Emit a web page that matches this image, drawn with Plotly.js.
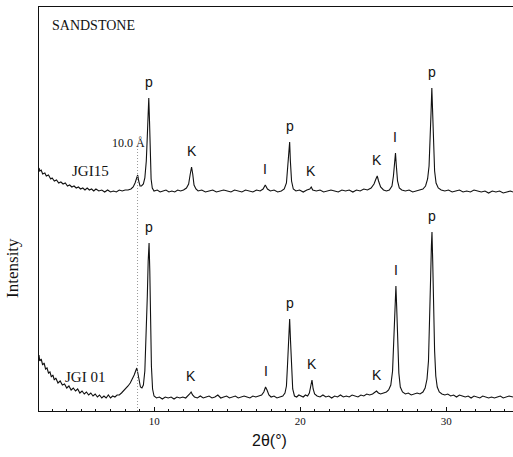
<!DOCTYPE html>
<html>
<head>
<meta charset="utf-8">
<script src="https://cdn.plot.ly/plotly-3.0.1.min.js"></script>
<style>html,body{margin:0;padding:0;background:#fff;}#chart{width:513px;height:457px;}</style>
</head>
<body>
<div id="chart"></div>
<script>
// 2θ (degrees) and intensity (arbitrary units)
const twoThetaJGI15 = [2.10,2.15,2.25,2.35,2.50,2.60,2.75,2.90,3.00,3.15,3.30,3.45,3.60,3.75,3.90,4.05,4.20,4.35,4.50,4.65,4.80,4.95,5.10,5.25,5.40,5.55,5.70,5.85,6.00,6.20,6.40,6.60,6.80,7.00,7.20,7.40,7.60,7.80,8.00,8.20,8.40,8.55,8.68,8.78,8.86,8.93,9.02,9.12,9.25,9.35,9.45,9.52,9.57,9.62,9.67,9.72,9.78,9.86,9.98,10.20,10.40,10.60,10.80,11.00,11.20,11.40,11.60,11.80,12.00,12.20,12.35,12.45,12.55,12.63,12.72,12.85,13.00,13.25,13.50,13.75,14.00,14.25,14.50,14.75,15.00,15.25,15.50,15.75,16.00,16.25,16.50,16.75,17.00,17.25,17.45,17.60,17.75,17.95,18.20,18.45,18.70,18.90,19.05,19.15,19.22,19.27,19.32,19.40,19.52,19.70,19.95,20.20,20.45,20.65,20.75,20.85,21.10,21.35,21.60,21.85,22.10,22.35,22.60,22.85,23.10,23.35,23.60,23.85,24.10,24.35,24.60,24.85,25.05,25.18,25.27,25.36,25.50,25.70,25.90,26.10,26.28,26.38,26.45,26.52,26.58,26.66,26.78,26.95,27.20,27.45,27.70,27.95,28.20,28.40,28.58,28.72,28.82,28.90,28.96,29.01,29.06,29.12,29.20,29.30,29.45,29.65,29.90,30.15,30.40,30.65,30.90,31.15,31.40,31.65,31.90,32.15,32.40,32.65,32.90,33.15,33.40,33.65,33.90,34.15,34.40,34.57];
const intensityJGI15 = [243,240,241,237,238,235,236,232,233,230,231,228,229,227,228,225,226,224,225,223,224,222,223,221,223,221,222,220,222,220,221,219,221,219,220,219,221,220,221,221,222,224,228,233,236,230,225,225,227,233,250,275,300,313,290,258,232,223,220,221,219,220,221,219,220,219,221,220,221,223,227,236,244,237,226,222,220,221,219,220,221,219,220,221,220,219,221,220,219,221,220,219,221,220,222,226,222,220,221,219,220,222,228,245,262,269,250,230,222,220,221,219,221,222,224,221,220,221,219,220,221,220,219,221,220,221,219,221,220,222,221,223,227,232,235,230,224,221,220,221,225,235,250,258,245,230,223,221,220,221,219,220,221,222,225,232,245,270,300,323,300,265,240,228,223,221,220,221,219,220,221,219,220,219,221,220,219,220,218,220,219,220,218,219,220,219];

const twoThetaJGI01 = [2.10,2.15,2.25,2.35,2.45,2.55,2.65,2.75,2.85,2.95,3.05,3.15,3.25,3.40,3.55,3.70,3.85,4.00,4.15,4.30,4.45,4.60,4.75,4.90,5.05,5.20,5.35,5.50,5.65,5.80,5.95,6.10,6.25,6.40,6.55,6.70,6.85,7.00,7.15,7.30,7.45,7.60,7.75,7.90,8.05,8.20,8.35,8.50,8.62,8.72,8.80,8.87,8.95,9.05,9.15,9.25,9.35,9.45,9.52,9.58,9.64,9.69,9.74,9.80,9.88,9.98,10.15,10.35,10.55,10.75,10.95,11.15,11.35,11.55,11.75,11.95,12.15,12.30,12.42,12.52,12.62,12.75,12.95,13.15,13.35,13.55,13.75,13.95,14.15,14.35,14.55,14.75,14.95,15.15,15.35,15.55,15.75,15.95,16.15,16.35,16.55,16.75,16.95,17.15,17.35,17.50,17.62,17.72,17.85,18.00,18.20,18.40,18.60,18.80,18.95,19.05,19.12,19.20,19.27,19.33,19.40,19.48,19.60,19.75,19.90,20.05,20.20,20.35,20.50,20.62,20.72,20.80,20.88,20.98,21.15,21.35,21.55,21.75,21.95,22.15,22.35,22.55,22.75,22.95,23.15,23.35,23.55,23.75,23.95,24.15,24.35,24.55,24.75,24.95,25.10,25.22,25.35,25.50,25.70,25.90,26.05,26.20,26.32,26.42,26.50,26.55,26.60,26.67,26.75,26.85,27.00,27.20,27.40,27.60,27.80,28.00,28.20,28.40,28.55,28.68,28.78,28.86,28.93,28.98,29.02,29.07,29.13,29.20,29.28,29.38,29.52,29.70,29.90,30.10,30.30,30.50,30.70,30.90,31.10,31.30,31.50,31.70,31.90,32.10,32.30,32.50,32.70,32.90,33.10,33.30,33.50,33.70,33.90,34.10,34.30,34.57];
const intensityJGI01 = [56,50,52,46,48,42,43,38,39,34,36,31,33,28,30,26,27,23,25,21,23,20,22,18,20,17,19,16,18,15,17,14,16,13,15,13,16,13,15,14,16,16,18,20,22,25,28,32,36,40,43,38,30,24,23,26,40,75,115,150,168,140,95,45,22,15,13,14,12,14,13,14,12,14,13,14,13,15,17,19,16,14,13,15,13,14,15,13,14,16,13,14,15,13,14,15,13,14,15,14,13,15,14,15,16,19,24,21,16,14,15,13,14,15,18,25,45,75,92,70,40,22,15,14,16,15,14,16,15,18,25,31,22,17,15,14,16,14,15,13,15,14,16,14,15,14,16,15,14,16,15,17,16,17,19,20,18,17,18,19,21,26,40,80,115,125,105,70,38,24,19,17,18,16,17,18,17,19,23,32,50,85,135,165,179,150,105,60,35,24,19,17,16,17,15,16,14,16,15,14,15,13,15,14,13,15,14,13,14,13,14,15,13,14,15,14];

// Peak labels (phase letters) and their 2θ positions
const peakLabelsJGI15 = ['p','K','I','p','K','K','I','p'];
const peakPosJGI15 = [9.62,12.55,17.60,19.27,20.75,25.27,26.52,29.01];
const peakLabelsJGI01 = ['p','K','I','p','K','K','I','p'];
const peakPosJGI01 = [9.64,12.52,17.62,19.27,20.80,25.22,26.55,29.02];

const sampleNames = ['JGI15','JGI 01'];
const reflection10A = 8.85; // 10.0 Å reflection, 2θ

function peakTop(xs, ys, x0){
  let best = -Infinity;
  for (let i=0;i<xs.length;i++){ if (Math.abs(xs[i]-x0)<=0.09 && ys[i]>best) best = ys[i]; }
  return best;
}

const traces = [
  {x: twoThetaJGI15, y: intensityJGI15, name: sampleNames[0], type:'scatter', mode:'lines', line:{color:'#111', width:1.1}, hoverinfo:'skip'},
  {x: twoThetaJGI01, y: intensityJGI01, name: sampleNames[1], type:'scatter', mode:'lines', line:{color:'#111', width:1.1}, hoverinfo:'skip'}
];

const letterFont = {family:'Liberation Sans, Arial, sans-serif', size:14, color:'#111'};
const serif = 'Liberation Serif, Times New Roman, serif';
const annotations = [];
function addLabels(labels, pos, xs, ys){
  labels.forEach((t,i)=>{
    annotations.push({x: pos[i], y: peakTop(xs, ys, pos[i]), xref:'x', yref:'y', text:t, showarrow:false,
      xanchor:'center', yanchor:'bottom', yshift:6, font: letterFont});
  });
}
addLabels(peakLabelsJGI15, peakPosJGI15, twoThetaJGI15, intensityJGI15);
addLabels(peakLabelsJGI01, peakPosJGI01, twoThetaJGI01, intensityJGI01);

annotations.push({text:'SANDSTONE', xref:'paper', yref:'paper', x:0.023, y:0.953, xanchor:'left', yanchor:'middle', showarrow:false, font:{family:serif, size:14, color:'#111'}});
annotations.push({text:sampleNames[0], xref:'x', yref:'y', x:5.6, y:240, xanchor:'center', yanchor:'middle', showarrow:false, font:{family:serif, size:15, color:'#111'}});
annotations.push({text:sampleNames[1], xref:'x', yref:'y', x:5.28, y:34, xanchor:'center', yanchor:'middle', showarrow:false, font:{family:serif, size:15, color:'#111'}});
annotations.push({text:'10.0 Å', xref:'x', yref:'y', x:9.5, y:268, xanchor:'right', yanchor:'middle', showarrow:false, font:{family:serif, size:12, color:'#111'}});
annotations.push({text:'Intensity', xref:'paper', yref:'paper', x:-0.055, y:0.354, xanchor:'center', yanchor:'middle', textangle:-90, showarrow:false, font:{family:serif, size:17, color:'#111'}});
annotations.push({text:'2θ(°)', xref:'paper', yref:'paper', x:0.487, y:-0.074, xanchor:'center', yanchor:'middle', showarrow:false, font:{family:'Liberation Sans, Arial, sans-serif', size:16, color:'#111'}});

const layout = {
  width:513, height:457,
  margin:{l:39, r:0, t:7, b:46},
  paper_bgcolor:'#fff', plot_bgcolor:'#fff',
  showlegend:false,
  xaxis:{range:[2.1,34.57], showgrid:false, zeroline:false, showline:true, linecolor:'#111', linewidth:1, mirror:true,
    ticks:'inside', ticklen:4, tickcolor:'#111', dtick:10, tick0:0,
    minor:{dtick:1, tick0:0, ticks:'inside', ticklen:2, tickcolor:'#111'},
    tickfont:{family:serif, size:11, color:'#111'}},
  yaxis:{range:[0,404], showgrid:false, zeroline:false, showline:true, linecolor:'#111', linewidth:1,
    ticks:'', showticklabels:false},
  shapes:[{type:'line', xref:'x', yref:'y', x0:reflection10A, x1:reflection10A, y0:0, y1:263, line:{color:'#999', width:1, dash:'1px,2px'}}],
  annotations: annotations
};
Plotly.newPlot('chart', traces, layout, {displayModeBar:false, staticPlot:true});
</script>
</body>
</html>
